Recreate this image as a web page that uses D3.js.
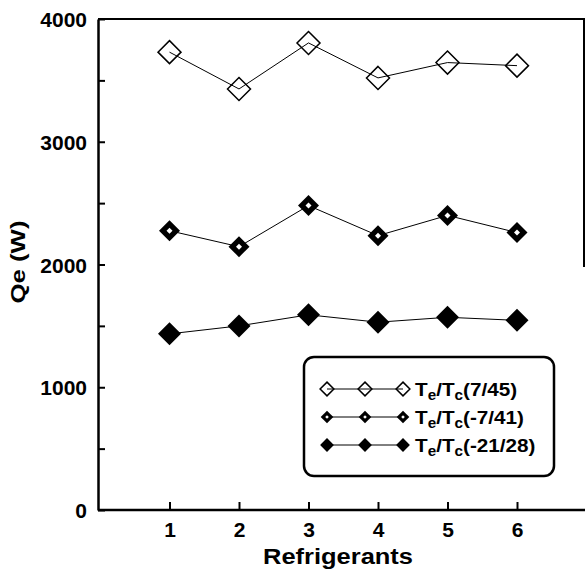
<!DOCTYPE html>
<html><head><meta charset="utf-8">
<script src="https://cdn.jsdelivr.net/npm/d3@7"></script>
<style>
html,body{margin:0;padding:0;background:#fff;}
svg{display:block;}
text{font-family:"Liberation Sans",Arial,Helvetica,sans-serif;font-weight:bold;fill:#000;}
</style></head>
<body>
<svg id="c" width="585" height="570"></svg>
<script>
const refrigerants = [1, 2, 3, 4, 5, 6];
const qe_7_45 = [3730, 3430, 3805, 3520, 3645, 3620];
const qe_m7_41 = [2275, 2145, 2480, 2235, 2400, 2260];
const qe_m21_28 = [1435, 1500, 1590, 1530, 1570, 1545];
const yMajorTicks = [0, 1000, 2000, 3000, 4000];
const yMinorTicks = [500, 1500, 2500, 3500];
const seriesNames = [["7/45"], ["-7/41"], ["-21/28"]];

const svg = d3.select("#c");
const x = d3.scaleLinear().domain([0, 7]).range([100, 586.5]);
const y = d3.scaleLinear().domain([0, 4000]).range([510, 19]);

// frame lines
const frame = svg.append("g").attr("stroke", "#000").attr("fill", "none");
frame.append("line").attr("x1", 98).attr("x2", 585).attr("y1", y(4000)).attr("y2", y(4000)).attr("stroke-width", 2);
frame.append("line").attr("x1", 584).attr("x2", 584).attr("y1", y(4000)).attr("y2", 267).attr("stroke-width", 2);

// y axis
const yAxis = svg.append("g").attr("transform", "translate(98,0)")
  .call(d3.axisLeft(y).tickValues(yMajorTicks).tickSize(-7).tickSizeOuter(0).tickPadding(11).tickFormat(d3.format("d")));
yAxis.select(".domain").attr("stroke-width", 2.5);
yAxis.selectAll(".tick line").attr("stroke-width", 2);
yAxis.selectAll("text").attr("font-size", 21).attr("font-family", null).attr("dy", "0.36em");
const yMinor = svg.append("g").attr("transform", "translate(98,0)")
  .call(d3.axisLeft(y).tickValues(yMinorTicks).tickSize(-7).tickSizeOuter(0).tickFormat(""));
yMinor.select(".domain").remove();
yMinor.selectAll(".tick line").attr("stroke-width", 2);

// x axis
const xAxis = svg.append("g").attr("transform", "translate(0,510)")
  .call(d3.axisBottom(x).tickValues(refrigerants).tickSize(-8).tickSizeOuter(0).tickPadding(19).tickFormat(d3.format("d")));
xAxis.select(".domain").attr("d", "M98,0H585").attr("stroke-width", 2.5);
xAxis.selectAll(".tick line").attr("stroke-width", 2);
xAxis.selectAll("text").attr("font-size", 21).attr("font-family", null).attr("dy", "0.36em");

// axis titles
svg.append("text").attr("x", 338).attr("y", 564).attr("text-anchor", "middle")
  .attr("font-size", 22).attr("textLength", 150).attr("lengthAdjust", "spacingAndGlyphs").text("Refrigerants");
svg.append("text").attr("transform", "translate(25,262) rotate(-90)").attr("text-anchor", "middle")
  .attr("font-size", 21).attr("textLength", 83).attr("lengthAdjust", "spacingAndGlyphs").text("Qe (W)");

const diamond = r => `M0,${-r}L${r},0L0,${r}L${-r},0Z`;
function drawMarker(g, type, cx, cy, s) {
  const m = g.append("g").attr("transform", `translate(${cx},${cy})`);
  if (type === 0) {
    m.append("path").attr("d", diamond(11.5 * s)).attr("fill", "none").attr("stroke", "#000").attr("stroke-width", 1.5);
  } else if (type === 1) {
    m.append("path").attr("d", diamond(10.5 * s)).attr("fill", "#000");
    m.append("path").attr("d", diamond(3 * s)).attr("fill", "#fff");
  } else {
    m.append("path").attr("d", diamond(11.5 * s)).attr("fill", "#000");
  }
}

const allSeries = [qe_7_45, qe_m7_41, qe_m21_28];
const line = d3.line().x((d, i) => x(refrigerants[i])).y(d => y(d));
allSeries.forEach((vals, k) => {
  const g = svg.append("g");
  g.append("path").attr("d", line(vals)).attr("fill", "none").attr("stroke", "#000").attr("stroke-width", 1);
  vals.forEach((v, i) => drawMarker(g, k, x(refrigerants[i]), y(v), 1));
});

// legend
const lg = svg.append("g");
lg.append("rect").attr("x", 304).attr("y", 357).attr("width", 250).attr("height", 119)
  .attr("rx", 10).attr("ry", 10).attr("fill", "#fff").attr("stroke", "#000").attr("stroke-width", 2.5);
const rowY = [389, 417, 445];
const mx = [327, 365, 403];
seriesNames.forEach((nm, k) => {
  lg.append("line").attr("x1", mx[0]).attr("x2", mx[2]).attr("y1", rowY[k]).attr("y2", rowY[k])
    .attr("stroke", "#000").attr("stroke-width", 1);
  mx.forEach(px => drawMarker(lg, k, px, rowY[k], 0.6));
  const t = lg.append("text").attr("transform", `translate(415,${rowY[k] + 7}) scale(1.09,1)`).attr("font-size", 19);
  t.append("tspan").text("T");
  t.append("tspan").attr("font-size", 14).attr("dy", 4).text("e");
  t.append("tspan").attr("dy", -4).text("/T");
  t.append("tspan").attr("font-size", 14).attr("dy", 4).text("c");
  t.append("tspan").attr("dy", -4).text("(" + nm[0] + ")");
});
</script>
</body></html>
